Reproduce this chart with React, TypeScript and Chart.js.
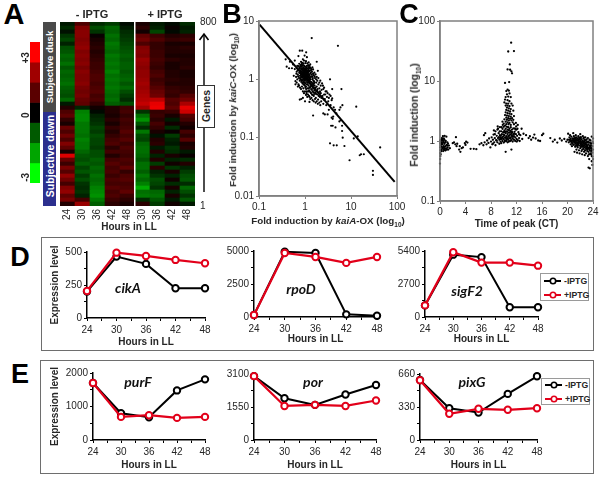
import React, { useEffect, useRef } from "react";
import { Chart, registerables } from "chart.js";
Chart.register(...registerables);

const SANS = '"Liberation Sans", Arial, sans-serif';

// ---------- Panel A ----------
const heatHours = ["24", "30", "36", "42", "48", "30", "36", "42", "48"];
const heatRows = [
  [-0.3, 0.9, -0.5, -0.7, -0.1, 0.3, -0.3, -0.1, -0.5],
  [-0.5, 1.5, -0.9, -1.2, -0.3, 0.5, -0.4, 0.1, -0.3],
  [-0.2, 1.6, -0.6, -1.1, -0.5, 0.2, -0.8, -0.1, -0.4],
  [-0.6, 1.6, 0.1, -1.3, -0.6, 1.1, 0.7, 0.4, 0.5],
  [-0.8, 1.5, 0.3, -1.2, -0.7, 1.3, 0.9, 0.6, 0.7],
  [-0.4, 1.6, 0.4, -1.4, -0.8, 0.9, 0.6, 0.3, 0.3],
  [-0.9, 1.7, 0.5, -1.3, -0.9, 1.5, 0.6, 0.4, 0.5],
  [-1.0, 1.5, 0.4, -1.2, -1.0, 1.6, 0.7, 0.4, 0.4],
  [-1.2, 1.6, 0.5, -1.4, -1.1, 1.5, 0.7, 0.3, 0.3],
  [-1.1, 1.5, 0.6, -1.3, -1.0, 1.8, 0.8, 0.5, 0.4],
  [-1.3, 1.6, 0.7, -1.4, -1.1, 1.7, 0.7, 0.3, 0.4],
  [-1.0, 1.4, 0.7, -1.3, -1.1, 1.6, 0.6, 0.3, 0.5],
  [-1.2, 1.6, 0.8, -1.5, -1.0, 1.7, 0.8, 0.4, 0.3],
  [-1.1, 1.5, 0.9, -1.3, -1.1, 1.7, 0.9, 0.4, 0.3],
  [-1.2, 1.5, 0.9, -1.4, -1.2, 1.8, 0.7, 0.5, 0.4],
  [-1.3, 1.6, 0.8, -1.3, -1.0, 1.9, 0.8, 0.4, 0.4],
  [-1.1, 1.4, 0.9, -1.4, -1.2, 1.8, 1.0, 0.6, 0.5],
  [-1.0, 1.3, 1.0, -1.3, -0.9, 1.9, 1.2, 0.7, 0.6],
  [-0.9, 1.4, 0.8, -1.2, -0.7, 2.0, 1.3, 0.6, 1.0],
  [-1.2, 1.2, 0.9, -1.3, -0.5, 2.1, 2.2, 1.0, 1.3],
  [-0.3, 1.1, 0.6, -1.1, -0.9, 2.3, 2.7, 0.9, 2.0],
  [0.4, -0.4, 0.2, 0.4, 0.7, 1.9, 2.8, 1.1, 2.7],
  [0.9, -1.5, -0.1, 0.4, 0.8, -0.6, 0.6, 0.7, 2.4],
  [1.1, -1.6, -0.4, 0.3, 0.6, -1.3, 0.7, 0.3, 1.0],
  [0.6, -1.6, -0.5, 0.5, 0.8, -1.7, 0.5, -0.3, 0.8],
  [0.3, -1.4, -0.6, 0.3, 0.7, -1.0, 0.8, 0.2, 0.4],
  [1.2, -1.4, -0.8, 0.6, 0.8, -0.5, 0.6, -0.5, 0.2],
  [0.9, -1.4, -0.7, 0.4, 1.0, -1.4, 0.3, 0.1, 0.8],
  [1.3, -1.3, -0.9, 0.6, 0.8, -0.9, -0.2, -0.7, 0.5],
  [0.9, -1.5, -0.8, 0.8, 1.0, -0.8, 0.4, -0.4, 1.0],
  [1.5, -1.4, -0.8, 0.9, 0.7, -1.2, 0.5, -0.3, 0.3],
  [1.1, -1.4, -0.7, 0.5, 0.9, -1.3, -0.3, -0.6, 0.4],
  [0.3, -1.2, -0.9, 0.8, 0.8, -1.3, 0.4, -0.5, -0.3],
  [2.6, -1.0, -0.9, 0.4, 0.7, -1.2, -0.4, 0.3, 0.1],
  [1.2, -0.9, -1.1, 0.8, 0.9, -1.0, 0.4, -0.4, -0.5],
  [0.7, -1.1, -1.0, 1.0, 0.8, -1.3, -0.7, 0.2, 0.4],
  [1.4, -0.8, -1.2, 0.8, 1.1, -1.3, 0.5, -0.6, -0.4],
  [1.0, -1.0, -1.1, 0.9, 0.6, -1.1, -0.4, 0.3, -0.7],
  [1.7, -0.7, -1.3, 0.7, 0.9, -1.4, -0.6, -0.4, -0.9],
  [1.3, -0.9, -1.2, 0.9, 1.0, -1.2, -0.9, 0.2, -1.0],
  [0.8, -0.6, -1.3, 0.8, 0.8, -1.5, -0.8, -0.5, -0.5],
  [1.5, -0.5, -1.5, 1.0, 0.9, -2.0, -0.6, 0.3, -1.2],
  [1.7, -0.6, -1.6, 0.8, 1.1, -1.3, -1.2, -0.4, -0.9],
  [1.1, -0.4, -1.7, 0.9, 0.7, -1.4, -1.3, 0.3, -0.6],
  [1.4, 0.8, -1.4, 0.7, 0.5, -0.5, -1.0, -0.3, -1.0],
  [0.4, 1.8, -1.1, 0.5, 0.3, 0.5, -0.7, 0.2, -0.3],
];
const scaleLevels = [3, 2, 1, 0, -1, -2, -3];
const scaleTickValues = [-3, 0, 3];
const geneTicks = [1, 800];

// ---------- Panel B ----------
const fitLineB = [[0.103, 8.65], [89, 0.0174]];
const bOutliers = [
  [1.4, 5.1], [5.2, 3.76], [0.77, 3.1], [0.87, 3.1], [1.06, 2.9], [1.8, 2.0], [0.72, 2.5], [1.1, 2.4], [0.98, 2.55],
  [6.2, 0.68], [13, 0.34], [6.5, 0.36], [3.5, 1.0], [3.9, 0.68], [3.9, 0.47], [1.5, 0.24], [4, 0.21], [3.8, 0.22],
  [4.1, 0.23], [3.7, 0.16], [4, 0.16], [4.6, 0.15], [6.4, 0.13], [6.6, 0.1], [6.4, 0.16], [3.5, 0.08], [4.2, 0.074],
  [4.9, 0.074], [7.2, 0.072], [9.3, 0.041], [11.5, 0.097], [14, 0.105], [15.5, 0.05], [16.5, 0.052], [19, 0.052],
  [30, 0.027], [30, 0.023], [43, 0.068], [5.6, 0.3], [5.9, 0.33], [4.8, 0.26], [5.6, 0.19], [6, 0.2], [3.1, 0.25],
  [2.5, 0.26], [2.7, 0.25], [0.4, 1.65], [0.45, 1.55], [0.38, 2.2], [0.52, 1.55], [0.55, 1.8], [0.47, 2.0], [0.6, 2.1],
  [0.57, 1.15], [0.62, 0.93], [0.7, 0.75], [0.77, 0.45], [0.83, 0.46], [0.9, 0.48], [1.0, 0.42], [1.25, 0.41],
];
const bCore = [
  [0.7, 1.2], [0.72, 1.45], [0.74, 1.05], [0.75, 1.3], [0.76, 1.6], [0.77, 0.95], [0.78, 1.15], [0.79, 1.4], [0.8, 1.75],
  [0.8, 1.0], [0.81, 1.25], [0.82, 1.55], [0.83, 0.9], [0.83, 1.1], [0.84, 1.35], [0.85, 1.65], [0.85, 1.9], [0.86, 1.0],
  [0.86, 1.2], [0.87, 1.45], [0.88, 0.85], [0.88, 1.3], [0.89, 1.55], [0.89, 1.1], [0.9, 1.75], [0.9, 0.95], [0.91, 1.25],
  [0.91, 1.4], [0.92, 1.05], [0.92, 1.6], [0.93, 1.15], [0.93, 1.85], [0.94, 0.9], [0.94, 1.3], [0.95, 1.5], [0.95, 1.0],
  [0.96, 1.2], [0.96, 1.7], [0.97, 0.8], [0.97, 1.35], [0.98, 1.1], [0.98, 1.55], [0.99, 0.95], [0.99, 1.25], [1.0, 1.45],
  [1.0, 1.65], [1.0, 1.05], [1.01, 0.85], [1.01, 1.3], [1.02, 1.15], [1.02, 1.9], [1.03, 1.5], [1.03, 0.98], [1.04, 1.22],
  [1.04, 1.38], [1.05, 0.75], [1.05, 1.08], [1.06, 1.6], [1.06, 0.9], [1.07, 1.28], [1.08, 1.45], [1.08, 1.02], [1.09, 0.82],
  [1.1, 1.18], [1.1, 1.7], [1.11, 1.35], [1.12, 0.95], [1.12, 1.55], [1.13, 1.1], [1.14, 0.7], [1.14, 1.25], [1.15, 1.42],
  [1.16, 0.88], [1.16, 1.05], [1.17, 1.75], [1.18, 1.3], [1.19, 0.78], [1.2, 1.12], [1.2, 1.5], [1.21, 0.95], [1.22, 1.22],
  [1.23, 0.65], [1.24, 1.38], [1.25, 0.85], [1.25, 1.05], [1.27, 0.72], [1.28, 1.6], [1.3, 0.92], [1.3, 1.25], [1.32, 0.6],
  [1.33, 0.8], [1.35, 1.1], [1.36, 0.68], [1.38, 1.45], [1.4, 0.88], [1.42, 0.55], [1.43, 0.75], [1.45, 1.0], [1.47, 0.62],
  [1.5, 0.82], [1.5, 1.25], [1.52, 0.7], [1.55, 0.52], [1.57, 0.92], [1.6, 0.65], [1.62, 0.78], [1.65, 1.05], [1.68, 0.58],
  [1.7, 0.72], [1.72, 0.48], [1.75, 0.88], [1.78, 0.62], [1.8, 0.75], [1.85, 0.55], [1.88, 0.68], [1.9, 1.4], [1.92, 0.45],
  [1.95, 0.82], [2.0, 0.6], [2.05, 0.7], [2.1, 0.5], [2.15, 0.95], [2.2, 0.58], [2.25, 0.42], [2.3, 0.66], [2.4, 0.52],
  [2.45, 0.78], [2.5, 0.38], [2.6, 0.55], [2.7, 0.46], [2.8, 0.62], [2.9, 0.36], [3.0, 0.5], [3.2, 0.42], [3.3, 0.3],
  [3.4, 0.55], [3.6, 0.36], [3.8, 0.44], [4.2, 0.33], [4.5, 0.3], [0.68, 1.7], [0.66, 1.35], [0.64, 1.1], [0.6, 1.5],
  [0.86, 0.75], [0.92, 0.7], [1.0, 0.62], [1.08, 0.58], [1.16, 0.55], [1.26, 0.5], [0.95, 2.1], [1.05, 2.05], [1.2, 1.95],
  [1.3, 1.8], [1.45, 1.6], [1.6, 1.3], [1.8, 1.1], [0.75, 1.85], [0.82, 2.0], [0.9, 2.2],
  [0.84, 1.12], [0.87, 1.08], [0.9, 1.33], [0.93, 1.43], [0.95, 1.12], [0.97, 1.02], [0.99, 1.42], [1.01, 1.12], [1.03, 1.3],
  [1.05, 1.2], [1.07, 1.1], [1.09, 1.38], [1.11, 1.02], [1.13, 1.33], [1.15, 1.18], [1.17, 0.98], [1.19, 1.4], [1.21, 1.08],
  [1.23, 0.95], [1.26, 1.15], [0.78, 1.28], [0.8, 1.42], [0.82, 1.2], [0.85, 1.48], [0.88, 1.18], [0.91, 1.52], [0.94, 1.22],
  [0.96, 1.38], [0.98, 1.28], [1.0, 1.18], [1.02, 1.42], [1.04, 1.52], [1.06, 1.35], [1.1, 1.28], [1.14, 1.1], [1.18, 1.2],
  [1.22, 1.0], [1.28, 1.05], [1.32, 1.0], [1.36, 0.9], [1.4, 0.78], [1.44, 0.85], [1.48, 0.72], [1.53, 0.8], [1.58, 0.7],
  [1.64, 0.68],
];
const bSpread = [
  [0.62, 0.82], [0.66, 0.88], [0.68, 1.0], [0.72, 0.82], [0.74, 0.78], [0.78, 0.72], [0.82, 0.68], [0.9, 0.62], [0.95, 0.58],
  [1.05, 0.54], [1.12, 0.5], [1.18, 0.62], [1.22, 0.52], [1.3, 0.46], [1.38, 0.48], [1.46, 0.44], [1.55, 0.42], [1.65, 0.46],
  [1.7, 0.4], [1.8, 0.42], [1.9, 0.38], [2.05, 0.4], [2.15, 0.36], [1.25, 1.7], [1.35, 1.55], [1.42, 1.35], [1.5, 1.48],
  [1.55, 1.18], [1.62, 1.12], [1.7, 1.22], [1.75, 1.0], [1.85, 0.95], [1.95, 1.05], [2.05, 0.88], [2.2, 0.78], [2.35, 0.85],
  [2.5, 0.68], [2.6, 0.72], [2.75, 0.55], [2.95, 0.62], [3.1, 0.58], [3.3, 0.48], [3.6, 0.52], [1.12, 1.88], [1.18, 1.62],
  [1.24, 1.55], [1.3, 1.42], [1.34, 1.3], [1.4, 1.2], [1.44, 1.12], [1.48, 1.05], [1.52, 0.95], [1.56, 0.85], [1.6, 0.88],
  [0.65, 1.25], [0.67, 1.55], [0.69, 1.42], [0.71, 1.12], [0.73, 1.68], [0.75, 1.55], [0.77, 1.42], [0.79, 1.05], [0.81, 1.65],
  [0.83, 1.78], [0.85, 0.95], [0.87, 1.72], [0.89, 1.92], [0.91, 0.88], [0.93, 0.82], [0.96, 0.88], [0.99, 0.78], [1.02, 0.72],
  [1.06, 0.68], [1.1, 0.62], [1.14, 0.82], [1.2, 0.7], [1.26, 0.62], [1.3, 0.74], [1.35, 0.58], [1.41, 0.66], [1.46, 0.54],
  [1.52, 0.6], [1.58, 0.56], [1.66, 0.6], [1.74, 0.56], [1.84, 0.65], [1.98, 0.52], [2.12, 0.62], [2.28, 0.48], [2.55, 0.45],
];

// ---------- Panel C ----------
const cSpike = [
  [11.16, 43.5], [10.7, 31], [11.6, 31.5], [10.95, 18.9], [10.6, 15.6], [11, 15.4], [11.2, 14.5], [11.3, 13.4], [10.2, 9.3],
  [10.85, 9.6], [10.6, 7.2], [10.4, 6.8], [10.8, 6.9], [10.9, 6.2], [10.5, 6], [10.3, 5.4], [10.7, 5.5], [11.1, 5.4],
  [10.2, 4.9], [10.6, 4.8], [10.9, 4.6], [10.1, 4.4], [10.4, 4.2], [10.7, 4.2], [11.2, 4.2], [10.3, 3.9], [10.6, 3.9],
  [10.9, 3.8], [11.4, 3.9], [10.5, 3.6], [10.8, 3.5], [11.1, 3.4], [10.4, 3.3], [10.7, 3.2], [11.0, 3.1], [11.5, 3.2],
  [10.3, 3.0], [10.6, 2.9], [10.9, 2.85], [11.2, 2.8], [10.2, 2.7], [10.5, 2.65], [10.8, 2.6], [11.1, 2.55], [11.6, 2.6],
  [10.4, 2.45], [10.7, 2.4], [11.0, 2.35], [11.3, 2.4], [10.1, 2.3], [10.5, 2.25], [10.8, 2.2], [11.2, 2.2], [11.5, 2.25],
  [9.8, 2.1], [10.3, 2.1], [10.6, 2.05], [10.9, 2.0], [11.4, 2.05], [11.9, 2.0], [10.0, 1.95], [10.4, 1.9], [10.75, 1.9],
  [11.1, 1.85], [11.6, 1.9], [12.2, 1.85],
];
const cPeak = [
  [6.2, 0.88], [6.5, 0.92], [6.8, 0.85], [6.9, 1.25], [7.0, 0.95], [7.1, 1.35], [7.3, 0.88], [7.4, 1.02], [7.6, 0.93],
  [7.7, 1.1], [7.9, 0.78], [8.0, 0.98], [8.1, 1.15], [8.2, 0.88], [8.3, 1.05], [8.4, 1.28], [8.5, 0.95], [8.6, 1.12],
  [8.7, 0.85], [8.8, 1.03], [8.9, 1.22], [9.0, 1.55], [9.0, 0.95], [9.1, 1.12], [9.2, 1.35], [9.3, 0.9], [9.3, 1.05],
  [9.4, 1.25], [9.4, 1.7], [9.5, 0.98], [9.5, 1.15], [9.6, 1.45], [9.6, 0.92], [9.7, 1.08], [9.7, 1.3], [9.8, 1.6],
  [9.8, 1.0], [9.9, 1.18], [9.9, 1.4], [10.0, 0.94], [10.0, 1.08], [10.0, 1.72], [10.1, 1.25], [10.1, 1.5], [10.2, 1.02],
  [10.2, 1.15], [10.2, 1.8], [10.3, 0.66], [10.3, 1.35], [10.3, 1.6], [10.4, 1.0], [10.4, 1.2], [10.4, 1.45], [10.5, 1.1],
  [10.5, 1.72], [10.6, 0.95], [10.6, 1.3], [10.6, 1.55], [10.7, 1.05], [10.7, 1.2], [10.7, 1.7], [10.8, 1.38], [10.8, 0.98],
  [10.9, 1.12], [10.9, 1.6], [11.0, 1.0], [11.0, 1.28], [11.0, 1.48], [11.1, 1.15], [11.1, 1.7], [11.2, 0.72], [11.2, 1.03],
  [11.2, 1.35], [11.3, 1.2], [11.3, 1.55], [11.4, 0.98], [11.4, 1.1], [11.5, 1.3], [11.5, 1.62], [11.6, 1.05], [11.6, 1.2],
  [11.7, 1.42], [11.8, 1.0], [11.8, 1.15], [11.9, 1.3], [12.0, 1.08], [12.0, 1.55], [12.1, 1.22], [12.2, 1.03], [12.3, 1.4],
  [12.4, 1.12], [12.6, 1.25], [12.8, 1.6], [12.9, 1.08], [10.15, 0.98], [10.45, 1.06], [10.65, 1.12], [10.85, 1.22],
  [11.05, 1.1], [11.25, 1.25], [11.45, 1.18], [11.65, 1.32], [10.55, 1.42], [10.75, 1.52], [10.95, 1.38], [11.15, 1.45],
  [11.35, 1.4], [9.55, 1.22], [9.75, 1.14], [9.95, 1.28], [10.25, 1.42], [10.35, 1.12], [9.25, 1.16], [9.45, 1.08],
  [8.3, 0.9], [8.6, 1.3], [8.9, 1.02], [9.1, 1.6], [9.35, 1.45], [9.65, 1.7], [9.85, 1.85], [10.05, 1.4], [12.15, 1.6],
  [12.4, 1.3], [11.85, 1.55], [11.95, 1.75], [12.5, 1.0], [12.05, 0.98], [11.75, 1.62], [9.05, 1.75], [8.7, 1.45], [8.45, 1.5],
];
const cLeft = [
  [0, 0.42], [0.02, 0.5], [0.05, 0.56], [0.04, 0.63], [0.08, 0.7], [0.03, 0.78], [0.1, 0.85], [0.06, 0.92], [0.12, 1.0],
  [0.15, 0.72], [0.18, 0.88], [0.2, 1.05], [0.25, 0.8], [0.28, 0.95], [0.3, 1.12], [0.35, 0.74], [0.4, 0.88], [0.42, 1.02],
  [0.45, 1.2], [0.5, 0.68], [0.55, 0.82], [0.58, 0.95], [0.6, 1.1], [0.65, 0.76], [0.7, 0.9], [0.72, 1.22], [0.8, 0.7],
  [0.85, 0.82], [0.9, 1.0], [0.95, 0.75], [1.0, 1.18], [1.05, 0.86], [1.1, 0.72], [1.15, 0.95], [1.2, 0.78], [1.3, 0.72],
  [1.4, 0.84], [1.55, 0.76], [2.0, 0.92], [2.2, 0.95], [2.4, 0.88], [2.5, 1.16], [2.6, 0.82], [2.7, 0.9], [3.0, 0.72],
  [3.1, 0.82], [3.2, 0.66], [3.4, 0.76], [3.6, 0.78], [3.9, 0.92], [4.0, 0.86], [4.1, 0.98], [4.3, 0.94], [4.8, 0.74],
  [5.3, 0.74], [5.7, 0.73], [0.1, 0.6], [0.22, 0.68], [0.32, 0.92], [0.48, 0.78], [0.62, 0.72], [0.75, 0.8], [0.88, 0.7],
  [1.02, 0.74], [1.12, 0.84], [1.25, 0.9], [0.38, 1.08], [0.52, 1.0], [0.68, 1.05], [0.82, 0.95], [0.05, 1.02],
];
const cMid = [
  [13.1, 1.32], [13.5, 1.25], [13.9, 1.12], [14.1, 1.2], [14.3, 1.05], [14.6, 1.14], [14.8, 1.28], [15.0, 1.1], [15.4, 1.02],
  [15.7, 1.0], [16.0, 1.25], [16.2, 1.32], [17.3, 1.12], [17.7, 0.98], [18.0, 1.05], [18.4, 0.94], [18.8, 1.1], [19.1, 1.02],
  [19.5, 1.08], [19.8, 0.98],
];
const cRight = [
  [20.0, 1.05], [20.1, 1.32], [20.2, 0.95], [20.3, 1.15], [20.4, 1.0], [20.4, 1.25], [20.5, 0.88], [20.5, 1.08], [20.6, 0.96],
  [20.6, 1.18], [20.7, 1.02], [20.7, 0.82], [20.8, 1.1], [20.8, 0.92], [20.9, 1.35], [20.9, 0.98], [21.0, 1.2], [21.0, 0.86],
  [21.0, 1.04], [21.1, 0.66], [21.1, 0.94], [21.1, 1.12], [21.2, 1.0], [21.2, 0.8], [21.3, 1.08], [21.3, 0.9], [21.3, 1.25],
  [21.4, 0.96], [21.4, 0.72], [21.4, 1.15], [21.5, 0.86], [21.5, 1.02], [21.5, 0.64], [21.6, 1.1], [21.6, 0.94], [21.6, 0.78],
  [21.7, 1.0], [21.7, 1.2], [21.7, 0.88], [21.8, 0.7], [21.8, 0.96], [21.8, 1.06], [21.9, 0.84], [21.9, 1.12], [21.9, 0.62],
  [22.0, 0.92], [22.0, 1.02], [22.0, 0.76], [22.0, 1.3], [22.1, 0.86], [22.1, 0.98], [22.1, 1.16], [22.2, 0.68], [22.2, 0.9],
  [22.2, 1.06], [22.3, 0.8], [22.3, 0.96], [22.3, 0.6], [22.4, 1.2], [22.4, 0.86], [22.4, 1.0], [22.5, 0.74], [22.5, 0.92],
  [22.5, 1.1], [22.6, 0.66], [22.6, 0.84], [22.6, 0.98], [22.7, 0.58], [22.7, 0.78], [22.7, 1.04], [22.8, 0.9], [22.8, 0.7],
  [22.8, 1.15], [22.9, 0.82], [22.9, 0.95], [22.9, 0.62], [23.0, 0.74], [23.0, 0.88], [23.0, 1.06], [23.1, 0.68], [23.1, 0.8],
  [23.1, 0.97], [23.2, 0.56], [23.2, 0.75], [23.2, 1.12], [23.3, 0.88], [23.3, 0.66], [23.3, 0.36], [23.4, 0.78], [23.4, 0.94],
  [23.4, 0.5], [23.5, 0.7], [23.5, 0.84], [23.5, 0.35], [23.6, 0.62], [23.6, 0.76], [23.6, 1.02], [23.7, 0.9], [23.7, 0.68],
  [23.8, 0.56], [23.8, 0.74], [23.8, 1.18], [23.8, 0.46], [23.9, 0.64], [23.9, 0.82], [23.9, 0.4], [24.0, 0.72], [24.0, 0.92],
  [24.0, 0.5], [24.0, 1.1], [21.55, 0.82], [21.75, 0.92], [21.95, 0.98], [22.15, 0.92], [22.35, 0.88], [22.55, 0.84],
  [22.75, 0.88], [22.95, 0.86], [23.15, 0.84], [23.35, 0.76], [23.55, 0.8], [23.75, 0.76], [21.35, 0.84], [21.15, 1.02],
  [22.25, 0.84], [22.65, 0.92], [23.05, 0.78], [23.45, 0.72], [23.65, 0.84], [23.85, 0.7],
  [20.25, 1.05], [20.55, 1.0], [20.75, 0.9], [20.95, 1.08], [21.25, 0.92], [21.45, 1.05], [21.65, 0.86], [21.85, 1.14],
  [22.05, 1.1], [22.45, 0.96], [22.6, 1.14], [22.85, 1.02], [23.05, 0.94], [23.25, 0.98], [23.45, 1.05], [23.65, 0.92],
  [23.95, 0.98], [21.05, 0.98], [21.25, 1.14], [20.85, 1.02], [21.55, 0.92], [22.12, 0.8], [22.32, 0.72], [22.52, 0.8],
  [22.72, 0.7], [22.92, 0.76], [23.12, 0.72], [23.32, 0.6], [23.52, 0.6], [23.72, 0.6], [23.92, 0.55],
];

// ---------- Panels D and E ----------
const lineHours = [24, 30, 36, 42, 48];
const seriesNames = ["-IPTG", "+IPTG"];
const cikAMinus = [200, 465, 410, 225, 225];
const cikAPlus = [205, 495, 470, 440, 415];
const rpoDMinus = [150, 4950, 4850, 200, 100];
const rpoDPlus = [150, 4850, 4550, 4100, 4550];
const sigF2Minus = [950, 5100, 4900, 800, 800];
const sigF2Plus = [950, 5300, 4450, 4450, 4200];
const purFMinus = [1700, 800, 680, 1480, 1810];
const purFPlus = [1700, 690, 740, 660, 690];
const porMinus = [3000, 1960, 1650, 2134, 2586];
const porPlus = [3000, 1600, 1650, 1600, 1854];
const pixGMinus = [600, 318, 275, 461, 637];
const pixGPlus = [597, 262, 312, 302, 318];

const toXY = (xs: number[], ys: number[]) => xs.map((x, i) => ({ x, y: ys[i] }));
const pairs = (p: number[][]) => p.map(([x, y]) => ({ x, y }));

const heatColor = (v: number) => {
  const c = Math.round((Math.min(Math.abs(v), 3) / 3) * 255);
  return v >= 0 ? `rgb(${c},0,0)` : `rgb(0,${c},0)`;
};

type Geo = { plot: number[]; pad: number[] };
const fix = (g: Geo) => ({
  yFit: (s: any) => { s.width = g.pad[0]; s.paddingTop = 0; s.paddingBottom = 0; },
  xFit: (s: any) => { s.height = g.pad[3]; s.paddingLeft = 0; s.paddingRight = 0; },
});
const baseOpts = (g: Geo) => ({
  responsive: false,
  animation: false as const,
  layout: { padding: { top: g.pad[1], right: g.pad[2], left: 0, bottom: 0 } },
  plugins: { legend: { display: false }, tooltip: { enabled: false } },
});
const frame = {
  id: "frame",
  afterDraw(c: any) {
    const a = c.chartArea, x = c.ctx;
    x.save();
    x.strokeStyle = "#808080";
    x.lineWidth = 1.5;
    x.strokeRect(a.left, a.top, a.right - a.left, a.bottom - a.top);
    x.restore();
  },
};

const heatGeo: Geo = { plot: [60, 22, 195, 206], pad: [0, 8, 24, 18] };
const scaleGeo: Geo = { plot: [30, 42, 40, 183], pad: [18, 4, 2, 2] };
const bGeo: Geo = { plot: [259, 21, 397, 196], pad: [24, 6, 16, 20] };
const cGeo: Geo = { plot: [440, 21, 593, 201], pad: [24, 6, 7, 29] };

const lineSpecs = [
  { g: { plot: [87, 252, 205, 318], pad: [38, 14, 8, 30] }, minus: cikAMinus, plus: cikAPlus, max: 500, ytitle: true },
  { g: { plot: [254, 251, 377, 317], pad: [30, 8, 8, 28] }, minus: rpoDMinus, plus: rpoDPlus, max: 5000, ytitle: false },
  { g: { plot: [425, 251, 538, 317], pad: [30, 8, 8, 28] }, minus: sigF2Minus, plus: sigF2Plus, max: 5400, ytitle: false },
  { g: { plot: [93, 373, 205, 440], pad: [44, 12, 8, 31] }, minus: purFMinus, plus: purFPlus, max: 2000, ytitle: true },
  { g: { plot: [254, 374, 376, 440], pad: [30, 8, 8, 31] }, minus: porMinus, plus: porPlus, max: 3100, ytitle: false },
  { g: { plot: [420, 374, 537, 440], pad: [30, 8, 8, 31] }, minus: pixGMinus, plus: pixGPlus, max: 660, ytitle: false },
];

const size = (g: Geo) => ({
  left: g.plot[0] - g.pad[0],
  top: g.plot[1] - g.pad[1],
  width: g.plot[2] - g.plot[0] + g.pad[0] + g.pad[2],
  height: g.plot[3] - g.plot[1] + g.pad[1] + g.pad[3],
});

const tickFont = { family: SANS, size: 10 };
const titleFont = { family: SANS, size: 10, weight: "bold" as const };
const INK = "#262626";

function heatConfig() {
  const f = fix(heatGeo);
  const unit = 800 / heatRows.length;
  const base = baseOpts(heatGeo);
  return {
    type: "bar",
    data: {
      labels: heatHours,
      datasets: [...heatRows].reverse().map((row) => ({
        data: row.map(() => unit),
        backgroundColor: row.map(heatColor),
        borderWidth: 0,
        barPercentage: 1,
        categoryPercentage: 1,
      })),
    },
    options: {
      ...base,
      layout: { padding: { top: heatGeo.pad[1], right: 0, left: 0, bottom: 0 } },
      scales: {
        x: {
          stacked: true,
          afterFit: f.xFit,
          border: { display: false },
          grid: {
            z: 2,
            drawTicks: false,
            lineWidth: 1.5,
            color: (c: any) => (c.index === 5 ? "#ffffff" : "rgba(0,0,0,0)"),
          },
          ticks: { minRotation: 90, maxRotation: 90, font: tickFont, color: INK, padding: 3, autoSkip: false },
        },
        y: {
          stacked: true,
          position: "right",
          min: 0,
          max: 800,
          afterFit: (s: any) => { s.width = heatGeo.pad[2]; s.paddingTop = 0; s.paddingBottom = 0; },
          border: { display: false },
          grid: { display: false, drawTicks: false },
          afterBuildTicks: (a: any) => { a.ticks = geneTicks.map((value) => ({ value })); },
          ticks: { font: tickFont, color: INK, padding: 5 },
        },
      },
    },
  };
}

function scaleConfig() {
  const f = fix(scaleGeo);
  return {
    type: "bar",
    data: {
      labels: [""],
      datasets: scaleLevels.map((v) => ({
        data: [[v - 0.5, v + 0.5]],
        backgroundColor: v === 0 ? "#000000" : v > 0 ? ["#5a0000", "#a00000", "#ff0000"][v - 1] : ["#005a00", "#00a500", "#00ff00"][-v - 1],
        borderWidth: 0,
        barPercentage: 1,
        categoryPercentage: 1,
        grouped: false,
      })),
    },
    options: {
      ...baseOpts(scaleGeo),
      scales: {
        x: { afterFit: f.xFit, display: true, border: { display: false }, grid: { display: false }, ticks: { display: false } },
        y: {
          min: -3.5,
          max: 3.5,
          afterFit: f.yFit,
          border: { display: false },
          grid: { display: false, drawTicks: false },
          afterBuildTicks: (a: any) => { a.ticks = scaleTickValues.map((value) => ({ value })); },
          ticks: {
            minRotation: 90,
            maxRotation: 90,
            font: titleFont,
            color: INK,
            padding: 4,
            callback: (v: number) => (v > 0 ? "+" + v : String(v)),
          },
        },
      },
    },
  };
}

function logAxis(ticks: number[], min: number, max: number, fit: any) {
  return {
    type: "logarithmic",
    min,
    max,
    afterFit: fit,
    afterBuildTicks: (a: any) => { a.ticks = ticks.map((value) => ({ value })); },
    border: { color: "#808080", width: 1.5 },
    grid: { drawOnChartArea: false, color: "#808080", tickLength: 3 },
    ticks: { font: tickFont, color: INK, padding: 2, autoSkip: false, maxRotation: 0, callback: (v: number) => String(v) },
  };
}

function bConfig() {
  const f = fix(bGeo);
  return {
    type: "scatter",
    data: {
      datasets: [
        { data: pairs(fitLineB), showLine: true, borderColor: "#000", borderWidth: 2, pointRadius: 0, clip: false },
        { data: pairs([...bCore, ...bSpread, ...bOutliers]), pointRadius: 1.1, backgroundColor: "#000", borderWidth: 0 },
      ],
    },
    options: {
      ...baseOpts(bGeo),
      scales: {
        x: logAxis([0.1, 1, 10, 100], 0.1, 100, f.xFit),
        y: logAxis([0.01, 0.1, 1, 10], 0.01, 10, f.yFit),
      },
    },
    plugins: [frame],
  };
}

function cConfig() {
  const f = fix(cGeo);
  return {
    type: "scatter",
    data: {
      datasets: [
        { data: pairs([...cLeft, ...cPeak, ...cSpike, ...cMid, ...cRight]), pointRadius: 1.15, backgroundColor: "#000", borderWidth: 0, clip: false },
      ],
    },
    options: {
      ...baseOpts(cGeo),
      scales: {
        x: {
          type: "linear",
          min: 0,
          max: 24,
          afterFit: f.xFit,
          border: { color: "#808080", width: 1.5 },
          grid: { drawOnChartArea: false, color: "#808080", tickLength: 3 },
          ticks: { stepSize: 4, font: tickFont, color: INK, padding: 2, maxRotation: 0 },
          title: { display: true, text: "Time of peak (CT)", font: titleFont, color: INK, padding: 0 },
        },
        y: logAxis([0.1, 1, 10, 100], 0.1, 100, f.yFit),
      },
    },
    plugins: [frame],
  };
}

function lineConfig(s: (typeof lineSpecs)[number]) {
  const f = fix(s.g);
  const ds = (label: string, ys: number[], color: string, order: number, w: number) => ({
    label,
    order,
    data: toXY(lineHours, ys),
    borderColor: color,
    borderWidth: w,
    pointBorderColor: color,
    pointBorderWidth: 2,
    pointBackgroundColor: "#ffffff",
    pointRadius: 3.2,
    tension: 0,
    clip: false,
  });
  return {
    type: "line",
    data: {
      datasets: [
        ds(seriesNames[0], s.minus, "#000000", 1, 2),
        ds(seriesNames[1], s.plus, "#e2001a", 0, 2.2),
      ],
    },
    options: {
      ...baseOpts(s.g),
      scales: {
        x: {
          type: "linear",
          min: 24,
          max: 48,
          afterFit: f.xFit,
          border: { color: "#000", width: 1.5 },
          grid: { drawOnChartArea: false, color: "#000", tickLength: 3 },
          ticks: {
            stepSize: 3,
            autoSkip: false,
            maxRotation: 0,
            font: tickFont,
            color: INK,
            padding: 3,
            callback: (v: number) => (v % 6 === 0 ? String(v) : ""),
          },
          title: { display: true, text: "Hours in LL", font: titleFont, color: INK, padding: 0 },
        },
        y: {
          min: 0,
          max: s.max,
          afterFit: f.yFit,
          border: { color: "#000", width: 1.5 },
          grid: { drawOnChartArea: false, color: "#000", tickLength: 3 },
          ticks: {
            stepSize: s.max / 4,
            autoSkip: false,
            font: tickFont,
            color: INK,
            padding: 2,
            callback: (v: number, i: number) => (i % 2 === 0 ? String(v) : ""),
          },
          title: { display: s.ytitle, text: "Expression level", font: titleFont, color: INK, padding: 0 },
        },
      },
    },
  };
}

const geos: Geo[] = [heatGeo, scaleGeo, bGeo, cGeo, ...lineSpecs.map((s) => s.g)];

const T = ({ x, y, rot, style, children }: any) => (
  <div
    style={{
      position: "absolute",
      left: x,
      top: y,
      transform: `translate(-50%,-50%)${rot ? ` rotate(${rot}deg)` : ""}`,
      whiteSpace: "nowrap",
      fontFamily: SANS,
      fontSize: 11,
      fontWeight: "bold",
      color: INK,
      lineHeight: 1,
      ...style,
    }}
  >
    {children}
  </div>
);

const Big = ({ x, y, c, s }: any) => (
  <T x={x} y={y} style={{ fontSize: s || 27, color: "#000" }}>{c}</T>
);

const Gene = ({ x, y, c }: any) => (
  <T x={x} y={y} style={{ fontFamily: "Lato, sans-serif", fontStyle: "italic", fontWeight: 700, fontSize: 14, color: "#111" }}>{c}</T>
);

const Box = ({ l, t, r, b, style }: any) => (
  <div style={{ position: "absolute", left: l, top: t, width: r - l, height: b - t, boxSizing: "border-box", border: "1.5px solid #6e6e6e", background: "#fff", ...style }} />
);

const Legend = ({ l, t, h, first, gap }: any) => (
  <div style={{ position: "absolute", left: l, top: t, width: 49, height: h, boxSizing: "border-box", border: "1px solid #9a9a9a", background: "#fff" }}>
    {seriesNames.map((name, i) => (
      <div key={name} style={{ position: "absolute", left: 3, top: first + i * gap, height: 10, display: "flex", alignItems: "center" }}>
        <svg width="17" height="10">
          <line x1="0" y1="5" x2="17" y2="5" stroke={i ? "#e2001a" : "#000"} strokeWidth="2" />
          <circle cx="9" cy="5" r="2.7" fill="#fff" stroke={i ? "#e2001a" : "#000"} strokeWidth="1.6" />
        </svg>
        <span style={{ font: `bold 8.7px ${SANS}`, color: INK, marginLeft: 3 }}>{name}</span>
      </div>
    ))}
  </div>
);

export default function App() {
  const refs = useRef<(HTMLCanvasElement | null)[]>([]);
  useEffect(() => {
    document.body.style.margin = "0";
    const configs: any[] = [heatConfig(), scaleConfig(), bConfig(), cConfig(), ...lineSpecs.map(lineConfig)];
    const charts = configs.map((cfg, i) => new Chart(refs.current[i]!, cfg));
    return () => charts.forEach((c) => c.destroy());
  }, []);

  return (
    <div style={{ position: "relative", width: 601, height: 479, background: "#fff", overflow: "hidden" }}>
      <Box l={41} t={237} r={594} b={351} />
      <Box l={40} t={360} r={594} b={474} />
      <Legend l={540} t={273} h={28} first={2} gap={14} />
      <Legend l={541} t={378} h={27} first={1} gap={14} />

      <div style={{ position: "absolute", left: 43, top: 22, width: 13, height: 90, background: "#4a4a4a" }} />
      <div style={{ position: "absolute", left: 43, top: 112, width: 13, height: 94, background: "#2c2f8e" }} />

      {geos.map((g, i) => {
        const s = size(g);
        return (
          <canvas
            key={i}
            ref={(el) => { refs.current[i] = el; }}
            width={s.width}
            height={s.height}
            style={{ position: "absolute", left: s.left, top: s.top, width: s.width, height: s.height }}
          />
        );
      })}

      <T x={50} y={67} rot={-90} style={{ color: "#fff", fontSize: 9.5 }}>Subjective dusk</T>
      <T x={50} y={156} rot={-90} style={{ color: "#fff", fontSize: 10.5 }}>Subjective dawn</T>

      <Big x={14} y={14} c="A" s={29} />
      <Big x={232} y={14} c="B" />
      <Big x={409} y={14} c="C" />
      <Big x={20} y={257} c="D" />
      <Big x={20} y={374} c="E" />

      <T x={92} y={14}>- IPTG</T>
      <T x={165} y={14}>+ IPTG</T>
      <T x={129} y={227} style={{ fontSize: 10 }}>Hours in LL</T>

      <svg style={{ position: "absolute", left: 197, top: 30, width: 16, height: 166 }}>
        <line x1="7" y1="4" x2="7" y2="162" stroke="#000" strokeWidth="1.4" />
        <path d="M2.5 10 L7 4 L11.5 10" fill="none" stroke="#000" strokeWidth="1.6" />
      </svg>
      <Box l={197} t={85} r={215} b={128} style={{ border: "1px solid #333" }} />
      <T x={206} y={106} rot={-90} style={{ fontSize: 10.5 }}>Genes</T>

      <T x={233} y={110} rot={-90} style={{ fontSize: 9.8 }}>Fold induction by <i>kaiC</i>-OX (log<sub style={{ fontSize: 6.5, lineHeight: 0 }}>10</sub>)</T>
      <T x={328} y={221} style={{ fontSize: 9.8 }}>Fold induction by <i>kaiA</i>-OX (log<sub style={{ fontSize: 6.5, lineHeight: 0 }}>10</sub>)</T>
      <T x={415} y={115} rot={-90} style={{ fontSize: 10.3 }}>Fold induction (log<sub style={{ fontSize: 6.5, lineHeight: 0 }}>10</sub>)</T>

      <Gene x={128} y={288} c="cikA" />
      <Gene x={301} y={289} c="rpoD" />
      <Gene x={467} y={291} c="sigF2" />
      <Gene x={138} y={382} c="purF" />
      <Gene x={313} y={382} c="por" />
      <Gene x={472} y={382} c="pixG" />
    </div>
  );
}
